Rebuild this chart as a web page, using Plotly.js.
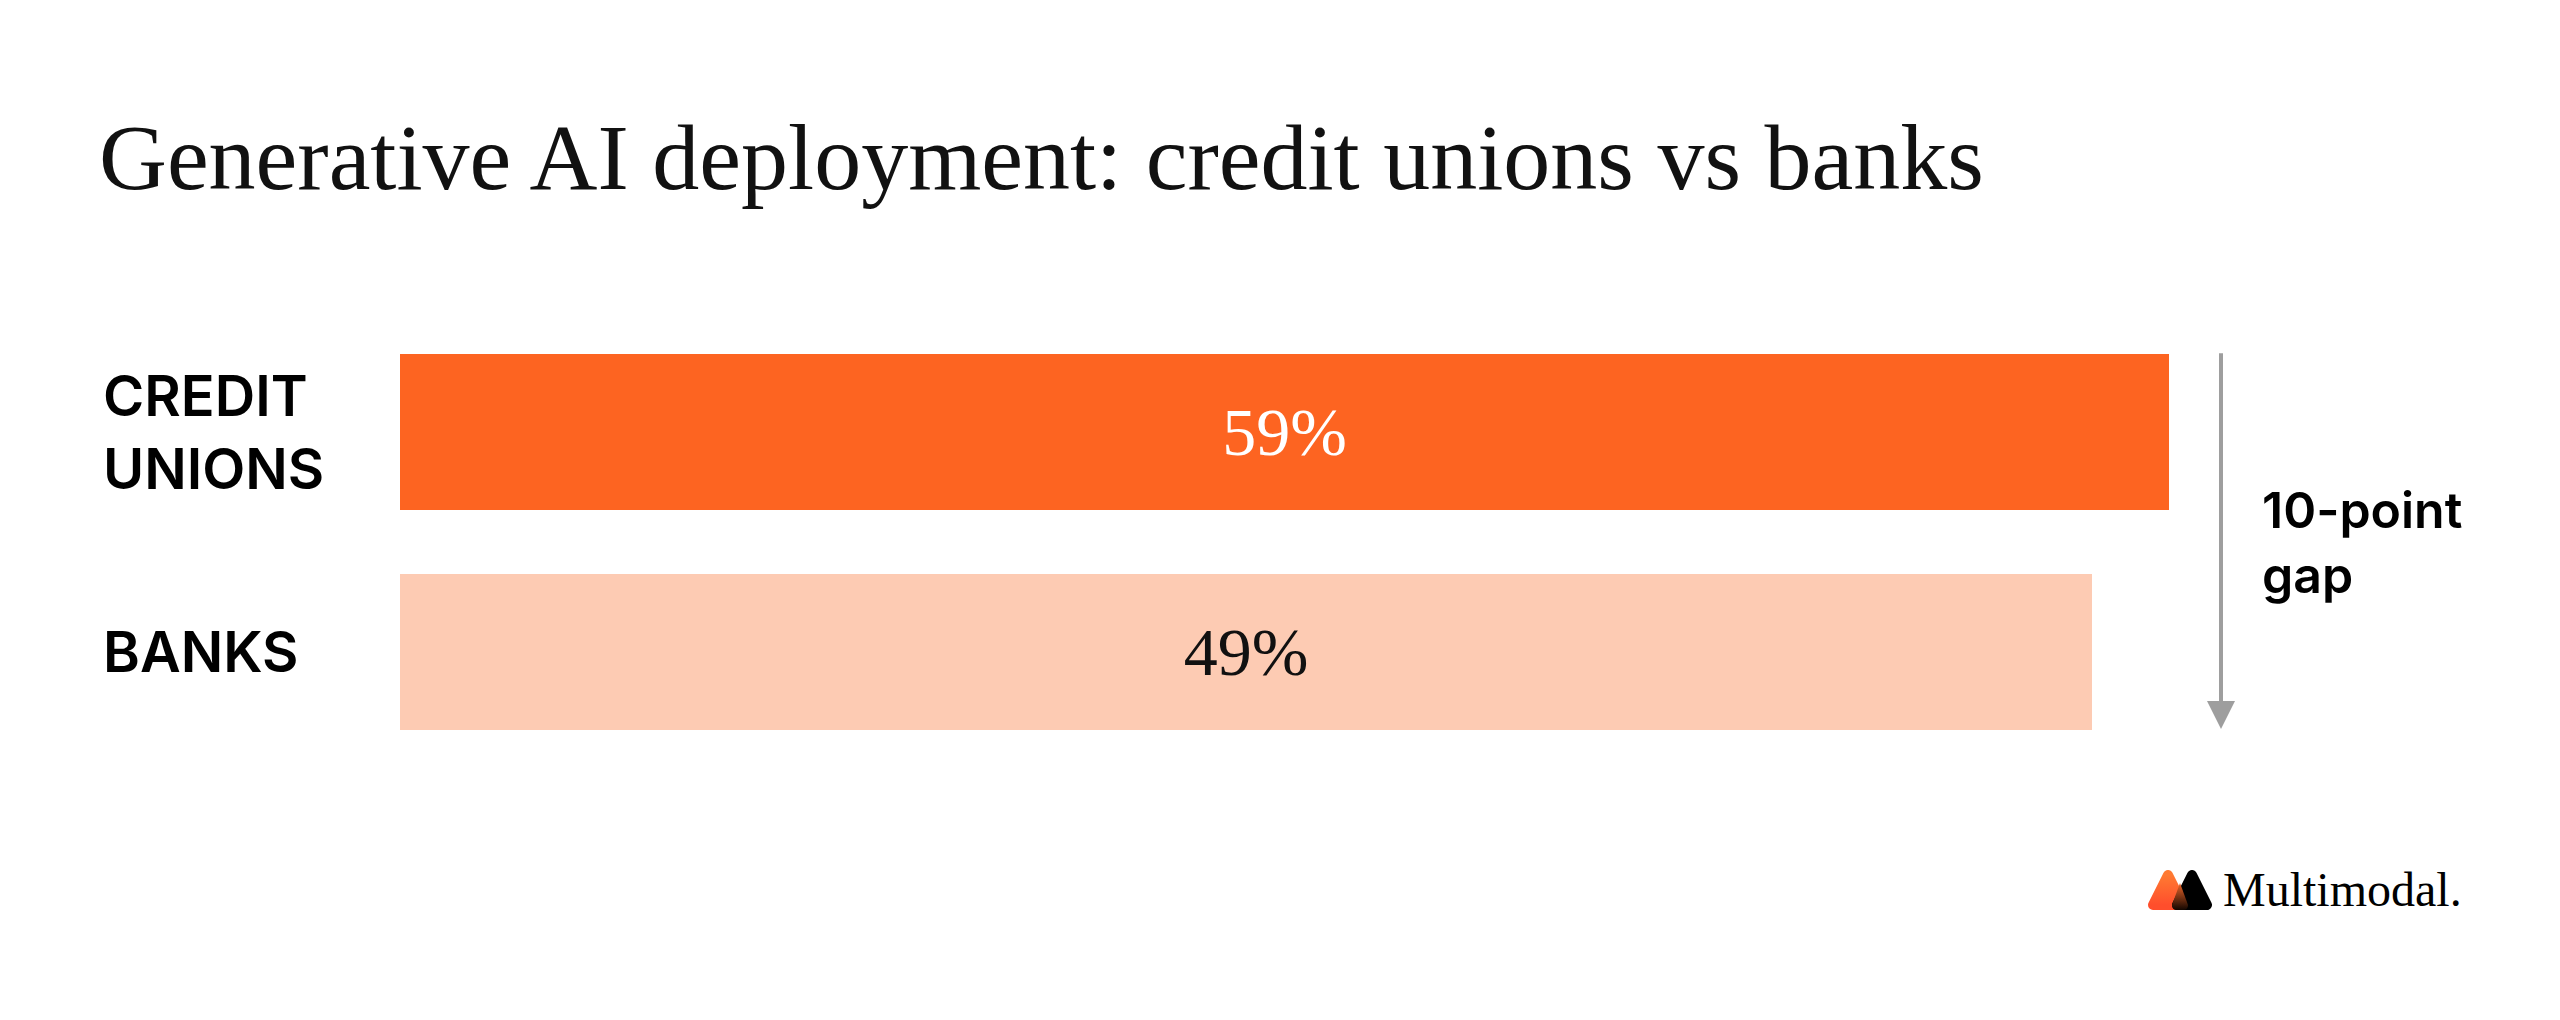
<!DOCTYPE html>
<html>
<head>
<meta charset="utf-8">
<script src="https://cdn.plot.ly/plotly-3.0.1.min.js"></script>
<style>
  html, body { margin: 0; padding: 0; background: #ffffff; }
  #chart { width: 2560px; height: 1020px; }
</style>
</head>
<body>
<div id="chart"></div>
<script>
// ---- data ----
const categories = ["CREDIT UNIONS", "BANKS"];
const categoryLabels = ["CREDIT<br>UNIONS", "BANKS"];
const values = [59, 49];
const barColors = ["#FD6421", "#FDCBB3"];
const labelColors = ["#ffffff", "#111111"];
const chartTitle = "Generative AI deployment: credit unions vs banks";
const gapLabel = "10-point<br>gap";
const brandName = "Multimodal.";

// ---- layout constants ----
const W = 2560, H = 1020;
const M = { l: 400, r: 300, t: 322, b: 258 };
const PW = W - M.l - M.r, PH = H - M.t - M.b;
const AXIS_START = -170.74;          // truncated value axis: bars start at the axis edge, end at their value
const AXIS_END = AXIS_START + PW / 7.7;
const px = v => (v - M.l) / PW;      // container x -> paper x
const py = v => (H - M.b - v) / PH;  // container y -> paper y

const logoSvg =
  '<svg xmlns="http://www.w3.org/2000/svg" width="64" height="40" viewBox="0 0 64 40">' +
  '<defs>' +
  '<linearGradient id="o" x1="0" y1="0" x2="0" y2="1"><stop offset="0" stop-color="#FF7A32"/><stop offset="1" stop-color="#FF4E2C"/></linearGradient>' +
  '<linearGradient id="m" x1="0" y1="0" x2="0" y2="1"><stop offset="0" stop-color="#F0672A"/><stop offset="1" stop-color="#120600"/></linearGradient>' +
  '</defs>' +
  '<path d="M20,5 L35,35 L5,35 Z" fill="url(#o)" stroke="url(#o)" stroke-width="10" stroke-linejoin="round"/>' +
  '<path d="M44,5 L59,35 L29,35 Z" fill="#000" stroke="#000" stroke-width="10" stroke-linejoin="round"/>' +
  '<path d="M32,13 L40,35 Q40,40 35,40 L29,40 Q24,40 24,35 Z" fill="url(#m)"/>' +
  '</svg>';
const logoSrc = "data:image/svg+xml;base64," + btoa(logoSvg);

const trace = {
  type: "bar",
  orientation: "h",
  y: categories,
  base: AXIS_START,
  x: values.map(v => v - AXIS_START),   // bar runs from the axis edge to the value
  customdata: values,
  marker: { color: barColors, line: { width: 0 } },
  texttemplate: "%{customdata}%",
  textposition: "inside",
  insidetextanchor: "middle",
  textangle: 0,
  textfont: { family: "Liberation Serif, serif", size: 68, color: labelColors },
  hoverinfo: "skip"
};

const annotations = categories.map((c, i) => ({
  xref: "paper", yref: "y",
  x: px(101), y: c,
  xanchor: "left", yanchor: "middle", align: "left",
  text: categoryLabels[i],
  showarrow: false,
  font: { family: "Inter, sans-serif", size: 56, weight: 600, color: "#000000" }
}));

annotations.push({
  xref: "paper", yref: "y",
  x: px(2221), y: 1.35,
  axref: "pixel", ax: 0,
  ayref: "y", ay: -0.365,
  text: "",
  showarrow: true,
  arrowhead: 2, arrowsize: 1.4, arrowwidth: 4, arrowcolor: "#9E9E9E",
  standoff: 0, startstandoff: 0
});

annotations.push({
  xref: "paper", yref: "y",
  x: px(2260), y: 0.5,
  xanchor: "left", yanchor: "middle", align: "left",
  text: gapLabel,
  showarrow: false,
  font: { family: "Inter, sans-serif", size: 50, weight: 600, color: "#000000" }
});

annotations.push({
  xref: "paper", yref: "paper",
  x: px(2221), y: py(889),
  xanchor: "left", yanchor: "middle",
  text: brandName,
  showarrow: false,
  font: { family: "Liberation Serif, serif", size: 48, color: "#000000" }
});

const layout = {
  width: W, height: H,
  margin: M,
  paper_bgcolor: "#ffffff",
  plot_bgcolor: "#ffffff",
  showlegend: false,
  bargap: 64 / 220,
  title: {
    text: chartTitle,
    xref: "container", yref: "container",
    x: 99 / W, xanchor: "left",
    y: 1 - 156 / H, yanchor: "middle",
    font: { family: "Liberation Serif, serif", size: 94, color: "#111111" }
  },
  xaxis: {
    range: [AXIS_START, AXIS_END],
    showgrid: false, zeroline: false, showline: false,
    showticklabels: false, ticks: "", fixedrange: true
  },
  yaxis: {
    type: "category",
    range: [1.5, -0.5],
    showgrid: false, zeroline: false, showline: false,
    showticklabels: false, ticks: "", fixedrange: true
  },
  annotations: annotations,
  images: [{
    source: logoSrc,
    xref: "paper", yref: "paper",
    x: px(2148), y: py(870),
    sizex: 64 / PW, sizey: 40 / PH,
    xanchor: "left", yanchor: "top",
    sizing: "stretch", layer: "above"
  }]
};

Plotly.newPlot("chart", [trace], layout, { displayModeBar: false, staticPlot: true });
</script>
</body>
</html>
